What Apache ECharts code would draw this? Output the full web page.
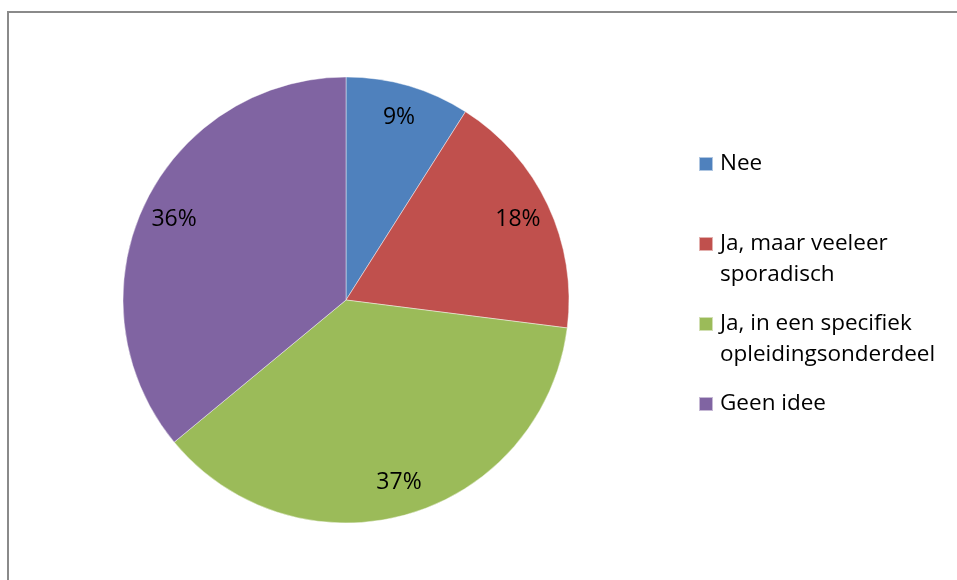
<!DOCTYPE html>
<html>
<head>
<meta charset="utf-8">
<script src="https://cdn.jsdelivr.net/npm/echarts@6/dist/echarts.min.js"></script>
<style>
  html, body { margin: 0; padding: 0; background: #fff; }
  #chart { width: 957px; height: 580px; }
</style>
</head>
<body>
<div id="chart"></div>
<script>
// Survey answers and their share of respondents (percent)
const categories = ['Nee', 'Ja, maar veeleer\nsporadisch', 'Ja, in een specifiek\nopleidingsonderdeel', 'Geen idee'];
const shares = [9, 18, 37, 36];
const colors = ['#4F81BD', '#C0504D', '#9BBB59', '#8064A2'];

const FONT = 'Open Sans';
const CX = 346, CY = 300, RADIUS = 223;
const LABEL_RADIUS = 185;            // distance of the percentage labels from the centre
const legendMarkerY = [164, 244, 324, 404];
const LINE_H = 31;

const chart = echarts.init(document.getElementById('chart'), null, { renderer: 'canvas' });

// one small legend per answer so each marker sits level with its first text line;
// a leading empty line shifts wrapped names down so their first line meets the marker
const legends = categories.map(function (name, i) {
  const twoLines = name.indexOf('\n') >= 0;
  return {
    orient: 'vertical',
    left: 698,
    top: legendMarkerY[i] - (twoLines ? LINE_H * 1.5 : LINE_H / 2),
    padding: 0,
    icon: 'rect',
    itemWidth: 14,
    itemHeight: 14,
    selectedMode: false,
    data: [name],
    formatter: function (n) { return twoLines ? '\n' + n : n; },
    textStyle: {
      fontFamily: FONT,
      fontSize: 22.5,
      color: '#000',
      lineHeight: LINE_H,
      padding: [0, 0, 0, 2]
    }
  };
});

chart.setOption({
  animation: false,
  backgroundColor: '#fff',
  color: colors,
  legend: legends,
  graphic: [{
    type: 'rect',
    shape: { x: 8, y: 12, width: 1000, height: 700 },
    style: { fill: 'none', stroke: '#8a8a8a', lineWidth: 2 },
    silent: true
  }],
  series: [{
    type: 'pie',
    center: [CX, CY],
    radius: [0, RADIUS],
    startAngle: 90,
    clockwise: true,
    silent: true,
    data: categories.map(function (name, i) { return { name: name, value: shares[i] }; }),
    itemStyle: { borderColor: 'rgba(255,255,255,0.55)', borderWidth: 0.8 },
    label: {
      show: true,
      position: 'inside',
      formatter: '{c}%',
      color: '#000',
      fontFamily: FONT,
      fontSize: 23
    },
    labelLine: { show: false },
    labelLayout: function (p) {
      const r = p.labelRect;
      const lx = r.x + r.width / 2, ly = r.y + r.height / 2;
      const k = LABEL_RADIUS / (RADIUS / 2) - 1;
      return { dx: (lx - CX) * k, dy: (ly - CY) * k };
    },
    emphasis: { disabled: true }
  }]
});
</script>
</body>
</html>
